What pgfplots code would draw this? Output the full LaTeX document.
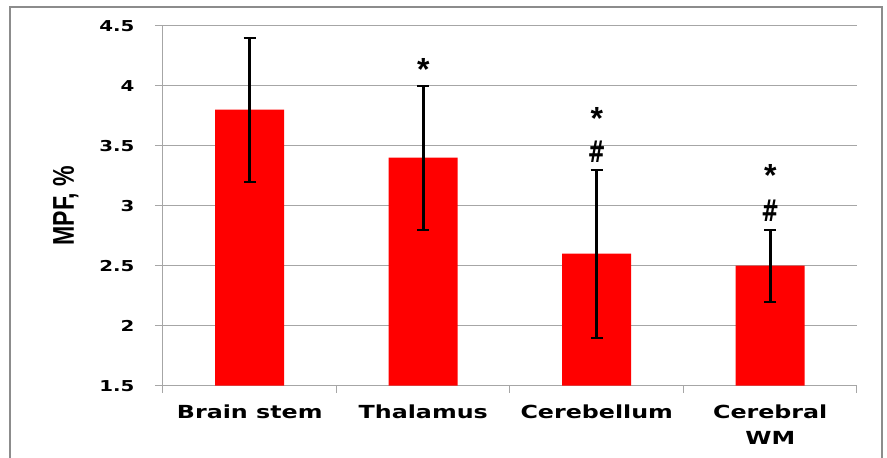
\documentclass[border=0pt]{standalone}
\usepackage{pgfplots}
\pgfplotsset{compat=1.18}
\usepackage{fontspec}
\setmainfont{DejaVu Sans}
\newfontfamily\widefont[FakeStretch=1.32]{DejaVu Sans}
\newfontfamily\arialfont{Liberation Sans}
\newfontfamily\narrowfont[FakeStretch=0.77]{Liberation Sans}
\newfontfamily\hashfont[FakeStretch=0.7]{DejaVu Sans}
\definecolor{gridgray}{HTML}{A6A6A6}
\definecolor{framegray}{HTML}{8C8C8C}
\begin{document}
\begin{tikzpicture}[x=1pt,y=1pt]
\useasboundingbox (0,0) rectangle (887,458);
\draw[framegray, line width=2pt] (10,-20) rectangle (882,451);
\begin{axis}[
  at={(163pt,72.3pt)}, anchor=south west,
  scale only axis, width=694pt, height=360pt,
  xmin=0.5, xmax=4.5, ymin=1.5, ymax=4.5,
  ybar,
  ytick={1.5,2,2.5,3,3.5,4,4.5},
  xtick={1,2,3,4},
  xticklabels={Brain stem,Thalamus,Cerebellum,{Cerebral\\WM}},
  minor xtick={0.5,1.5,2.5,3.5,4.5},
  axis lines*=left,
  axis line style={-, gridgray, line width=1pt},
  ymajorgrids, major grid style={gridgray, line width=1pt},
  tick align=outside,
  major tick length=8pt, minor tick length=7pt,
  major x tick style={draw=none},
  minor x tick style={gridgray, line width=1pt},
  y tick style={gridgray, line width=1pt},
  /pgf/number format/assume math mode=true,
  yticklabel style={font=\widefont\bfseries\fontsize{15}{18}\selectfont, text=black, xshift=-17pt},
  xticklabel style={font=\widefont\bfseries\fontsize{18}{26}\selectfont, align=center, text=black, yshift=-8pt},
  ylabel={MPF, \%},
  ylabel style={at={(rel axis cs:-0.14,0.5)}, anchor=center, font=\narrowfont\bfseries\fontsize{30}{30}\selectfont},
]
\addplot[fill=red, draw=none, bar width=69pt,
  error bars/.cd, y dir=both, y explicit,
  error bar style={black, line width=3pt},
  error mark options={black, line width=2pt, mark size=6pt, rotate=90}]
  coordinates {
  (1,3.8) +- (0,0.6)
  (2,3.4) +- (0,0.6)
  (3,2.6) +- (0,0.7)
  (4,2.5) +- (0,0.3)
  };
\node[font=\arialfont\bfseries\fontsize{32}{32}\selectfont] at (axis cs:2,4.135) {*};
\node[font=\arialfont\bfseries\fontsize{32}{32}\selectfont] at (axis cs:3,3.73) {*};
\node[font=\hashfont\bfseries\fontsize{30}{30}\selectfont] at (axis cs:3,3.45) {\#};
\node[font=\arialfont\bfseries\fontsize{32}{32}\selectfont] at (axis cs:4,3.255) {*};
\node[font=\hashfont\bfseries\fontsize{30}{30}\selectfont] at (axis cs:4,2.96) {\#};
\end{axis}
\end{tikzpicture}
\end{document}
